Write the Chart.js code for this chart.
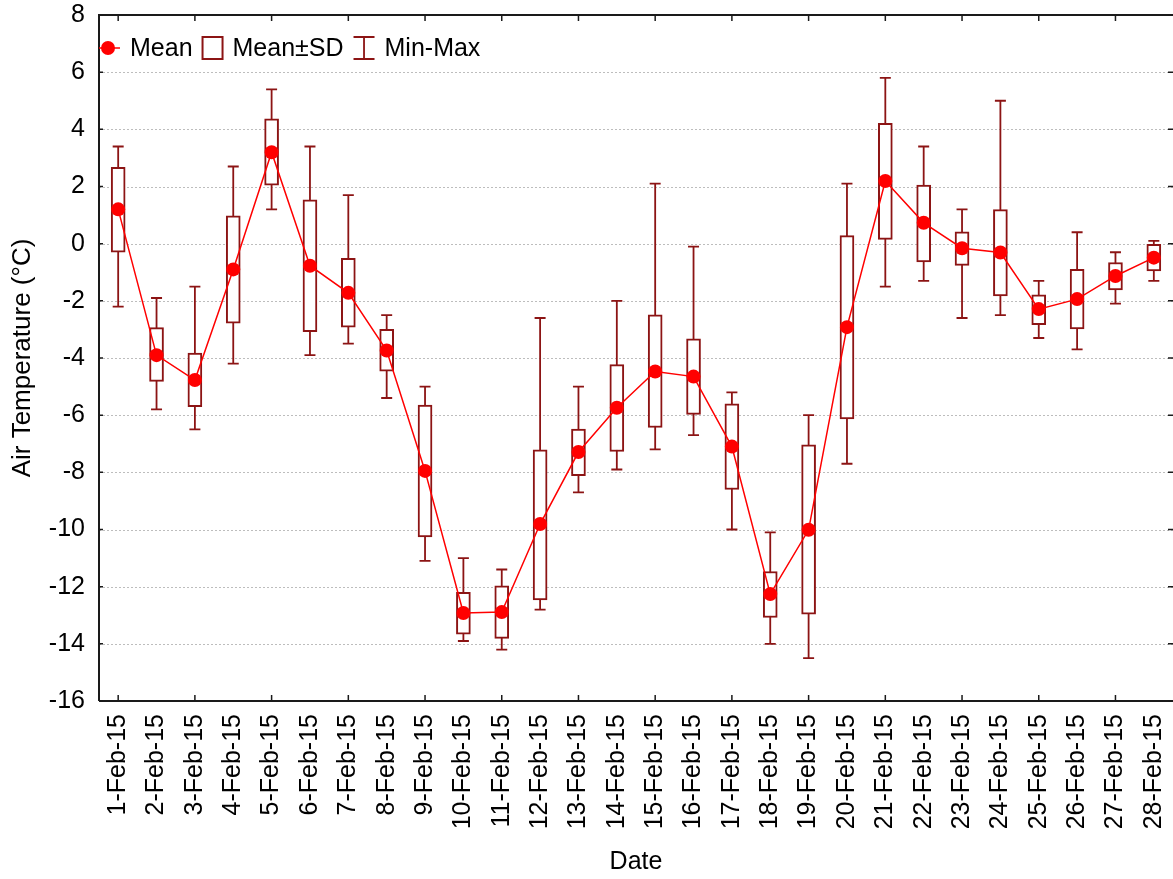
<!DOCTYPE html>
<html>
<head>
<meta charset="utf-8">
<script src="https://cdn.jsdelivr.net/npm/chart.js@4.4.1/dist/chart.umd.min.js"></script>
<style>
  html, body { margin: 0; padding: 0; background: #ffffff; }
  #wrap { width: 1173px; height: 879px; }
</style>
</head>
<body>
<div id="wrap"><canvas id="c" width="1173" height="879"></canvas></div>
<script>
const dates = ['1-Feb-15','2-Feb-15','3-Feb-15','4-Feb-15','5-Feb-15','6-Feb-15','7-Feb-15','8-Feb-15','9-Feb-15','10-Feb-15','11-Feb-15','12-Feb-15','13-Feb-15','14-Feb-15','15-Feb-15','16-Feb-15','17-Feb-15','18-Feb-15','19-Feb-15','20-Feb-15','21-Feb-15','22-Feb-15','23-Feb-15','24-Feb-15','25-Feb-15','26-Feb-15','27-Feb-15','28-Feb-15'];
const meanT = [1.2, -3.9, -4.77, -0.9, 3.2, -0.77, -1.72, -3.74, -7.95, -12.92, -12.89, -9.81, -7.29, -5.74, -4.47, -4.65, -7.1, -12.26, -10.01, -2.92, 2.19, 0.73, -0.16, -0.31, -2.29, -1.94, -1.13, -0.49];
const sdHigh = [2.67, -2.94, -3.83, 0.97, 4.37, 1.53, -0.51, -3.0, -5.65, -12.2, -11.97, -7.21, -6.49, -4.23, -2.49, -3.33, -5.6, -11.47, -7.04, 0.28, 4.21, 2.05, 0.41, 1.19, -1.79, -0.9, -0.66, -0.02];
const sdLow = [-0.3, -4.82, -5.7, -2.78, 2.05, -3.08, -2.92, -4.46, -10.26, -13.66, -13.81, -12.46, -8.12, -7.27, -6.43, -5.97, -8.6, -13.08, -12.96, -6.13, 0.15, -0.64, -0.76, -1.83, -2.83, -2.98, -1.62, -0.95];
const maxT = [3.4, -1.9, -1.5, 2.7, 5.4, 3.4, 1.7, -2.5, -5.0, -11.0, -11.4, -2.6, -5.0, -2.0, 2.1, -0.1, -5.2, -10.1, -6.0, 2.1, 5.8, 3.4, 1.2, 5.0, -1.3, 0.4, -0.3, 0.1];
const minT = [-2.2, -5.8, -6.5, -4.2, 1.2, -3.9, -3.5, -5.4, -11.1, -13.9, -14.2, -12.8, -8.7, -7.9, -7.2, -6.7, -10.0, -14.0, -14.5, -7.7, -1.5, -1.3, -2.6, -2.5, -3.3, -3.7, -2.1, -1.3];
const yMin = -16, yMax = 8, yStep = 2;
const legendLabels = ['Mean', 'Mean\u00B1SD', 'Min-Max'];

const FONT = "'Liberation Sans', Arial, Helvetica, sans-serif";
const BOX = '#8c1414';
const RED = '#ff0000';

const framePlugin = {
  id: 'frame',
  beforeDatasetsDraw(chart) {
    const {ctx, chartArea: a, scales: {x, y}} = chart;
    ctx.save();
    ctx.strokeStyle = '#bdbdbd';
    ctx.lineWidth = 1;
    ctx.setLineDash([2, 2]);
    y.ticks.forEach(t => {
      if (t.value <= yMin || t.value >= yMax) return;
      const py = Math.round(y.getPixelForValue(t.value)) + 0.5;
      ctx.beginPath(); ctx.moveTo(a.left, py); ctx.lineTo(a.right, py); ctx.stroke();
    });
    ctx.setLineDash([]);
    ctx.strokeStyle = BOX;
    ctx.lineWidth = 1.8;
    for (let i = 0; i < dates.length; i++) {
      const px = x.getPixelForValue(i);
      const p1 = y.getPixelForValue(maxT[i]);
      const p2 = y.getPixelForValue(minT[i]);
      ctx.beginPath();
      ctx.moveTo(px, p1); ctx.lineTo(px, p2);
      ctx.moveTo(px - 5.5, p1); ctx.lineTo(px + 5.5, p1);
      ctx.moveTo(px - 5.5, p2); ctx.lineTo(px + 5.5, p2);
      ctx.stroke();
    }
    ctx.restore();
  },
  afterDraw(chart) {
    const {ctx, chartArea: a, scales: {x, y}} = chart;
    ctx.save();
    ctx.strokeStyle = '#1a1a1a';
    ctx.lineWidth = 2;
    ctx.beginPath();
    ctx.moveTo(a.left, a.bottom); ctx.lineTo(a.left, a.top); ctx.lineTo(a.right, a.top);
    ctx.moveTo(a.left, a.bottom); ctx.lineTo(a.right, a.bottom);
    ctx.stroke();
    ctx.lineWidth = 1.5;
    ctx.beginPath();
    y.ticks.forEach(t => {
      const py = y.getPixelForValue(t.value);
      ctx.moveTo(a.left, py); ctx.lineTo(a.left + 4, py);
      ctx.moveTo(a.right, py); ctx.lineTo(a.right - 5, py);
    });
    for (let i = 0; i < dates.length; i += 2) {
      const px = x.getPixelForValue(i);
      ctx.moveTo(px, a.bottom); ctx.lineTo(px, a.bottom - 6);
      ctx.moveTo(px, a.top); ctx.lineTo(px, a.top + 6);
    }
    ctx.stroke();
    const ly = 48;
    ctx.font = '25px ' + FONT;
    ctx.textBaseline = 'middle';
    ctx.strokeStyle = RED; ctx.lineWidth = 1.5;
    ctx.beginPath(); ctx.moveTo(a.left, ly); ctx.lineTo(a.left + 21, ly); ctx.stroke();
    ctx.fillStyle = RED;
    ctx.beginPath(); ctx.arc(a.left + 9, ly, 7, 0, Math.PI * 2); ctx.fill();
    ctx.fillStyle = '#000';
    let tx = 130;
    ctx.fillText(legendLabels[0], tx, ly + 1);
    tx += ctx.measureText(legendLabels[0]).width + 10;
    ctx.strokeStyle = BOX; ctx.lineWidth = 2;
    ctx.fillStyle = '#fff';
    ctx.fillRect(tx, 37, 20, 22);
    ctx.strokeRect(tx, 37, 20, 22);
    ctx.fillStyle = '#000';
    tx += 30;
    ctx.fillText(legendLabels[1], tx, ly + 1);
    tx += ctx.measureText(legendLabels[1]).width + 10;
    ctx.lineWidth = 1.8;
    ctx.beginPath();
    ctx.moveTo(tx + 10.5, 37); ctx.lineTo(tx + 10.5, 59);
    ctx.moveTo(tx, 37); ctx.lineTo(tx + 21, 37);
    ctx.moveTo(tx, 59); ctx.lineTo(tx + 21, 59);
    ctx.stroke();
    tx += 31;
    ctx.fillText(legendLabels[2], tx, ly + 1);
    ctx.restore();
  }
};

const sdBoxes = dates.map((d, i) => [sdLow[i], sdHigh[i]]);

new Chart(document.getElementById('c'), {
  data: {
    labels: dates,
    datasets: [
      {
        type: 'line',
        label: legendLabels[0],
        data: meanT,
        borderColor: RED,
        borderWidth: 1.5,
        pointRadius: 7,
        pointHoverRadius: 7,
        pointBackgroundColor: RED,
        pointBorderWidth: 0,
        tension: 0,
        order: 1
      },
      {
        type: 'bar',
        label: legendLabels[1],
        data: sdBoxes,
        backgroundColor: '#ffffff',
        borderColor: BOX,
        borderWidth: 2,
        borderSkipped: false,
        barThickness: 14,
        order: 2
      }
    ]
  },
  options: {
    responsive: false,
    animation: false,
    devicePixelRatio: 1,
    layout: { autoPadding: false, padding: { top: 15, right: 0, left: 0, bottom: 0 } },
    plugins: { legend: { display: false }, tooltip: { enabled: false } },
    scales: {
      x: {
        type: 'category',
        offset: true,
        grid: { display: false, drawTicks: false },
        border: { display: false },
        ticks: {
          autoSkip: false, minRotation: 90, maxRotation: 90,
          font: { family: FONT, size: 25 }, color: '#000', padding: 13
        },
        title: {
          display: true, text: 'Date', color: '#000',
          font: { family: FONT, size: 25 }, padding: { top: 0, bottom: 2 }
        },
        afterFit(s) { s.height = 178; s.paddingLeft = 0; s.paddingRight = 0; }
      },
      y: {
        min: yMin, max: yMax,
        grid: { display: false, drawTicks: false },
        border: { display: false },
        ticks: {
          stepSize: yStep, font: { family: FONT, size: 25 }, color: '#000', padding: 14
        },
        title: {
          display: true, text: 'Air Temperature (\u00B0C)', color: '#000',
          font: { family: FONT, size: 26 }, padding: { top: 7, bottom: 0 }
        },
        afterFit(s) { s.width = 99; s.paddingTop = 0; s.paddingBottom = 0; }
      }
    }
  },
  plugins: [framePlugin]
});
</script>
</body>
</html>
